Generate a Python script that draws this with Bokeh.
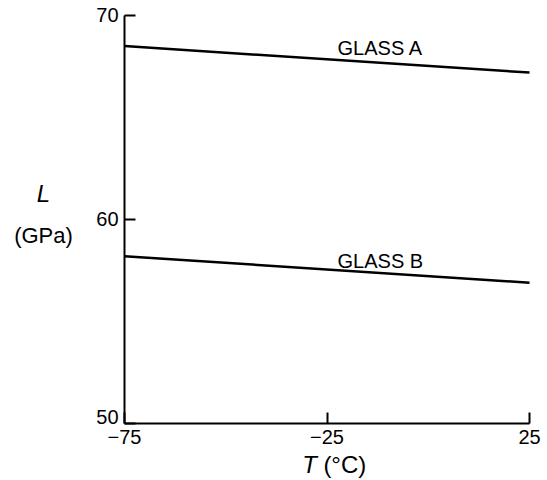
from bokeh.plotting import figure
from bokeh.models import FixedTicker, Label, LinearAxis
from bokeh.embed import file_html
from bokeh.resources import INLINE

# Data
temperature = [-75, 25]
glass_a = [68.5, 67.2]
glass_b = [58.2, 56.9]
x_ticks = [-75, -25, 25]
y_ticks = [50, 60, 70]
series_names = ["GLASS A", "GLASS B"]

FONT = "Liberation Sans"
X0, X1 = -75, 25
Y0, Y1 = 50, 70

p = figure(width=547, height=480, x_range=(-105.62, 29.44), y_range=(47.206, 70.735),
           output_backend="svg", toolbar_location=None,
           x_axis_location=None, y_axis_location=None,
           min_border_left=0, min_border_right=0, min_border_top=0,
           min_border_bottom=0)
p.outline_line_color = None
p.xgrid.visible = False
p.ygrid.visible = False
p.background_fill_color = "white"
p.border_fill_color = "white"

xax = LinearAxis(fixed_location=Y0, bounds=(X0, X1), ticker=FixedTicker(ticks=x_ticks))
yax = LinearAxis(fixed_location=X0, bounds=(Y0, Y1), ticker=FixedTicker(ticks=y_ticks))
yax.major_label_overrides = {50: ""}

for ax in (xax, yax):
    ax.axis_line_width = 2
    ax.axis_line_color = "black"
    ax.major_tick_in = 11
    ax.major_tick_out = 0
    ax.major_tick_line_width = 2
    ax.major_tick_line_color = "black"
    ax.minor_tick_line_color = None
    ax.major_label_text_font = FONT
    ax.major_label_text_font_size = "20px"
    ax.major_label_text_color = "black"
    ax.major_label_standoff = 6

p.add_layout(xax, "below")
p.add_layout(yax, "left")

p.line(temperature, glass_a, line_color="black", line_width=2.5)
p.line(temperature, glass_b, line_color="black", line_width=2.5)

def lab(x, y, text, size, style="normal", align="center", baseline="middle", xo=0, yo=0):
    p.add_layout(Label(x=x, y=y, text=text, text_font=FONT, text_font_style=style,
                       text_font_size=size, text_baseline=baseline, text_align=align,
                       text_color="black", x_offset=xo, y_offset=yo))

# bottom y tick label sits above the corner
lab(X0, Y0, "50", "20px", align="right", baseline="bottom", xo=-6, yo=0)

lab(-22.4, 68.33, series_names[0], "20px", align="left", yo=2)
lab(-22.4, 57.89, series_names[1], "20px", align="left", yo=2)

# axis titles
lab(-95, 61.27, "L", "24px", style="italic")
lab(-95, 59.22, "(GPa)", "22px")
lab(-29.3, 48.0, "T", "24px", style="italic")
lab(-20.6, 48.0, "(°C)", "24px")

open("out.html", "w").write(file_html(p, INLINE))
